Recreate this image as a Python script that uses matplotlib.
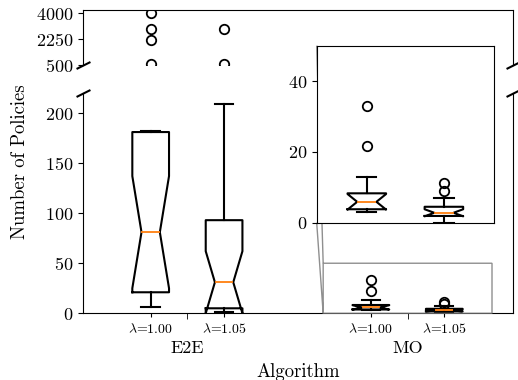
import matplotlib
matplotlib.use("Agg")
import matplotlib.pyplot as plt

plt.rcParams['font.family'] = ['cmr10', 'DejaVu Serif']
plt.rcParams['mathtext.fontset'] = 'cm'
plt.rcParams['axes.formatter.use_mathtext'] = True

# ---- data ----
groups = ['E2E', 'MO']
tick_labels = [r'$\lambda$=1.00', r'$\lambda$=1.05', r'$\lambda$=1.00', r'$\lambda$=1.05']
whislo = [6, 1, 2.9, 0.0]
q1 = [21, 5, 3.8, 1.9]
med = [81, 31, 5.9, 2.8]
q3 = [181, 93, 8.3, 4.5]
whishi = [182, 209, 12.9, 6.9]
cilo = [25, 0, 3.7, 1.8]
cihi = [137, 62, 8.1, 3.8]
fliers = [[4020, 2920, 2150, 510], [2920, 510], [21.8, 32.9], [8.9, 11.2]]
top_ticks = [500, 2250, 4000]
bot_ticks = [0, 50, 100, 150, 200]
inset_ticks = [0, 20, 40]

# positions: groups of two, separated by a gap
positions = []
for g in range(len(groups)):
    for j in range(2):
        positions.append(g * 3 + j + 1)
group_centers = [g * 3 + 1.5 for g in range(len(groups))]

stats = []
for i in range(len(positions)):
    stats.append(dict(whislo=whislo[i], q1=q1[i], med=med[i], q3=q3[i],
                      whishi=whishi[i], cilo=cilo[i], cihi=cihi[i],
                      fliers=fliers[i]))

W, H = 518, 380
fig = plt.figure(figsize=(W / 100, H / 100), dpi=100)

def fx(px):
    return px / W

def fy(py):
    return 1 - py / H

left, right = 82.7, 513
ax_top = fig.add_axes([fx(left), fy(64.5), fx(right - left), (64.5 - 10) / H])
ax_bot = fig.add_axes([fx(left), fy(313.3), fx(right - left), (313.3 - 93) / H])

bkw = dict(positions=positions, widths=0.5, shownotches=True,
           boxprops=dict(color='k', linewidth=1.5),
           whiskerprops=dict(color='k', linewidth=1.5),
           capprops=dict(color='k', linewidth=1.5),
           medianprops=dict(color='#ff7f0e', linewidth=1.3),
           flierprops=dict(marker='o', markerfacecolor='none', markeredgecolor='k',
                           markersize=6.8, markeredgewidth=1.3),
           manage_ticks=False)

for ax in (ax_top, ax_bot):
    ax.bxp(stats, **bkw)
    ax.set_xlim(0.074, 5.936)

ax_top.set_ylim(500, 4220)
ax_top.set_yticks(top_ticks)
ax_bot.set_ylim(0, 220)
ax_bot.set_yticks(bot_ticks)

ax_top.spines['bottom'].set_visible(False)
ax_bot.spines['top'].set_visible(False)
ax_top.tick_params(axis='x', bottom=False, labelbottom=False)
for ax in (ax_top, ax_bot):
    ax.tick_params(axis='y', labelsize=13)

ax_bot.set_xticks(positions, labels=tick_labels)
ax_bot.tick_params(axis='x', which='major', labelsize=10, length=3, pad=3)
ax_bot.set_xticks(group_centers, labels=groups, minor=True)
ax_bot.tick_params(axis='x', which='minor', labelsize=13, length=4, pad=16)

# break marks
d = .5
kw = dict(marker=[(-1, -d), (1, d)], markersize=10, linestyle='none',
          color='k', mec='k', mew=1.5, clip_on=False)
ax_top.plot([0, 1], [0, 0], transform=ax_top.transAxes, **kw)
ax_bot.plot([0, 1], [1, 1], transform=ax_bot.transAxes, **kw)

fig.text(fx(20.5), fy(162), 'Number of Policies', rotation=90,
         ha='center', va='center', fontsize=13.5)
fig.text(fx(298), fy(376.7), 'Algorithm', ha='center', va='baseline', fontsize=13.5)

# inset
inset = fig.add_axes([fx(316.7), fy(222.7), fx(494 - 316.7), (222.7 - 45.7) / H])
inset.bxp(stats, **bkw)
inset.set_xlim(3.35, 5.65)
inset.set_ylim(0, 50)
inset.set_yticks(inset_ticks)
inset.tick_params(axis='y', labelsize=13)
inset.tick_params(axis='x', bottom=False, labelbottom=False)
ax_bot.indicate_inset_zoom(inset, edgecolor='0.45', alpha=0.8)

fig.savefig('out.png', dpi=100)
